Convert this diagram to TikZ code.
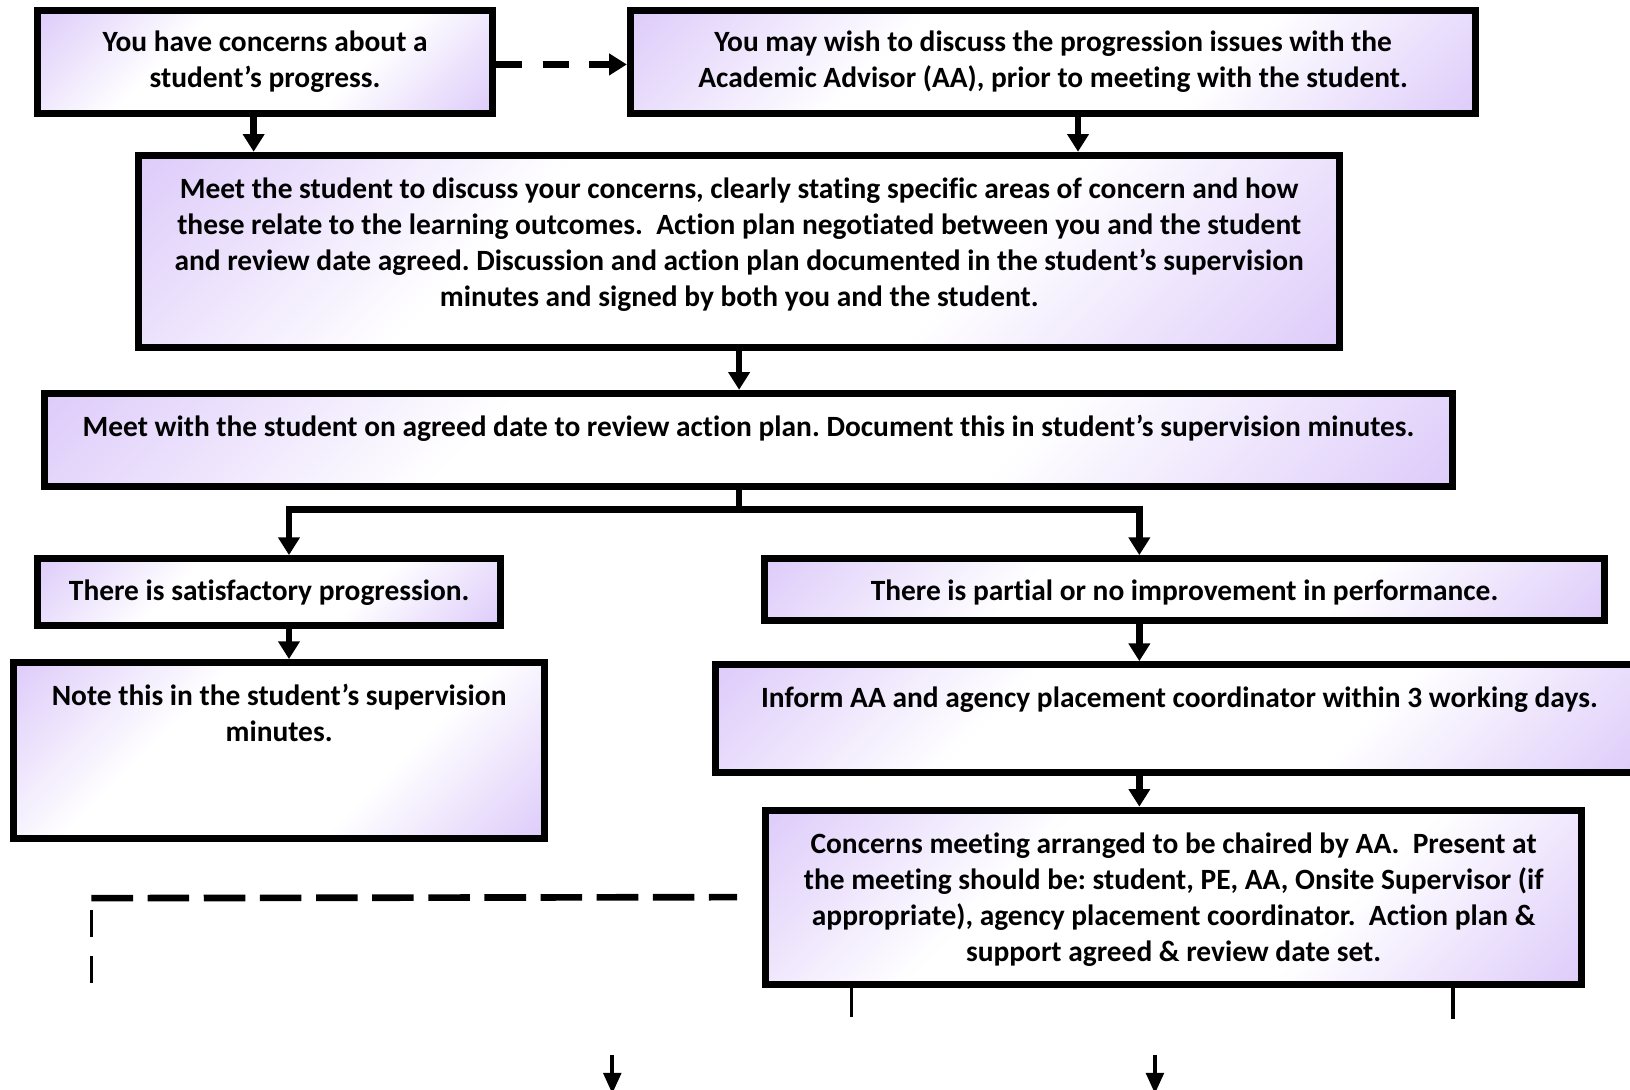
\documentclass[tikz,border=0pt]{standalone}
\usepackage{fontspec}
\setmainfont{Carlito}[Ligatures={NoCommon}]
\usetikzlibrary{arrows.meta}
\definecolor{lav}{RGB}{222,204,250}
\pgfdeclarehorizontalshading{lavdiag}{100bp}{color(0bp)=(lav); color(15bp)=(lav); color(37bp)=(white); color(63bp)=(white); color(85bp)=(lav); color(100bp)=(lav)}
\frenchspacing
\begin{document}
\begin{tikzpicture}[x=1pt,y=-1pt,
  box/.style={draw=black, line width=6.7pt, rectangle, inner sep=0pt,
    shading=lavdiag, shading angle=-45},
  txt/.style={anchor=base, align=flush center, inner sep=0pt,
    font=\fontsize{28.3pt}{34.5pt}\selectfont\bfseries\frenchspacing},
  conn/.style={line width=6.4pt, line join=miter},
  arr/.style={conn, -{Triangle[length=17pt,width=20pt]}},
  dasharr/.style={line width=6pt, dash pattern=on 25pt off 20pt, -{Triangle[length=17pt,width=20pt]}},
  dashline/.style={line width=6.4pt, dash pattern=on 40pt off 14pt},
  dashthin/.style={line width=3.5pt, dash pattern=on 26pt off 19pt},
  thinline/.style={line width=3.5pt},
  thinarr/.style={line width=3.5pt, -{Triangle[length=20pt,width=17pt]}}
]
\useasboundingbox (0,0) rectangle (1568,1048);
\clip (0,0) rectangle (1568,1048);

% boxes
\node[box, minimum width=437.3pt, minimum height=99.3pt] (b1) at (255,60) {};
\node[box, minimum width=813.3pt, minimum height=99.3pt] (b2) at (1013,60) {};
\node[box, minimum width=1155.3pt, minimum height=185.3pt] (b3) at (711,242) {};
\node[box, minimum width=1355.3pt, minimum height=89.3pt] (b4) at (720,423) {};
\node[box, minimum width=445.3pt, minimum height=64.3pt] (b5) at (259,569.5) {};
\node[box, minimum width=808.3pt, minimum height=59.3pt] (b6) at (1139.5,567) {};
\node[box, minimum width=510.3pt, minimum height=169.3pt] (b7) at (268.5,722) {};
\node[box, minimum width=892.3pt, minimum height=103.3pt] (b8) at (1134.5,691) {};
\node[box, minimum width=785.3pt, minimum height=167.3pt] (b9) at (1129,863) {};

% texts
\node[txt, text width=437pt] (t1) at (255,50) {You have concerns about a\\student’s progress.};
\node[txt, text width=813pt] (t2) at (1013,50) {You may wish to discuss the progression issues with the\\Academic Advisor (AA), prior to meeting with the student.};
\node[txt, text width=1155pt] (t3) at (711,191) {Meet the student to discuss your concerns, clearly stating specific areas of concern and how\\these relate to the learning outcomes.\ \ Action plan negotiated between you and the student\\and review date agreed. Discussion and action plan documented in the student’s supervision\\minutes and signed by both you and the student.};
\node[txt, text width=1355pt] (t4) at (720,420) {Meet with the student on agreed date to review action plan. Document this in student’s supervision minutes.};
\node[txt, text width=445pt] (t5) at (259,578) {There is satisfactory progression.};
\node[txt, text width=808pt] (t6) at (1139.5,578) {There is partial or no improvement in performance.};
\node[txt, text width=510pt] (t7) at (268.5,679) {Note this in the student’s supervision\\minutes.};
\node[txt, text width=892pt] (t8) at (1134.5,681) {Inform AA and agency placement coordinator within 3 working days.};
\node[txt, text width=785pt] (t9) at (1129,821) {Concerns meeting arranged to be chaired by AA.\ \ Present at\\the meeting should be: student, PE, AA, Onsite Supervisor (if\\appropriate), agency placement coordinator.\ \ Action plan \&\\support agreed \& review date set.};

% connectors
\draw[dasharr] ([yshift=-2pt]b1.east) -- ([yshift=-2pt]b1.east -| b2.west);
\draw[arr] ([xshift=-11pt]b1.south) -- ([xshift=-11pt]b1.south |- b3.north);
\draw[arr] ([xshift=24pt]b2.south) -- ([xshift=24pt]b2.south |- b3.north);
\draw[arr] (b3.south) -- (b3.south |- b4.north);

\coordinate (jn) at (711,490);
\coordinate (jl) at (278,490);
\coordinate (jr) at (1096,490);
\draw[conn] (b4.south -| jn) -- (jn);
\draw[conn, {Triangle[length=17pt,width=20pt]}-{Triangle[length=17pt,width=20pt]}]
  (jl |- b5.north) -- (jl) -- (jr) -- (jr |- b6.north);
\draw[arr] (jl |- b5.south) -- (jl |- b7.north);
\draw[arr] (jr |- b6.south) -- (jr |- b8.north);
\draw[arr] (jr |- b8.south) -- (jr |- b9.north);

% dashed line to the left
\coordinate (dc) at (88,864);
\draw[dashline] (dc) -- ([xshift=-24pt]b9.west);
\coordinate (dv1) at (88,875);
\coordinate (dv2) at (88,946);
\draw[dashthin] (dv1) -- (dv2);

% lines below the last box
\coordinate (v1) at (819,978);
\coordinate (v2) at (1398,980);
\draw[thinline] (v1 |- b9.south) -- (v1);
\draw[thinline] (v2 |- b9.south) -- (v2);

% arrows at the bottom
\coordinate (a1s) at (589,1015);
\coordinate (a1e) at (589,1052);
\coordinate (a2s) at (1111,1015);
\coordinate (a2e) at (1111,1052);
\draw[thinarr] (a1s) -- (a1e);
\draw[thinarr] (a2s) -- (a2e);
\end{tikzpicture}
\end{document}
